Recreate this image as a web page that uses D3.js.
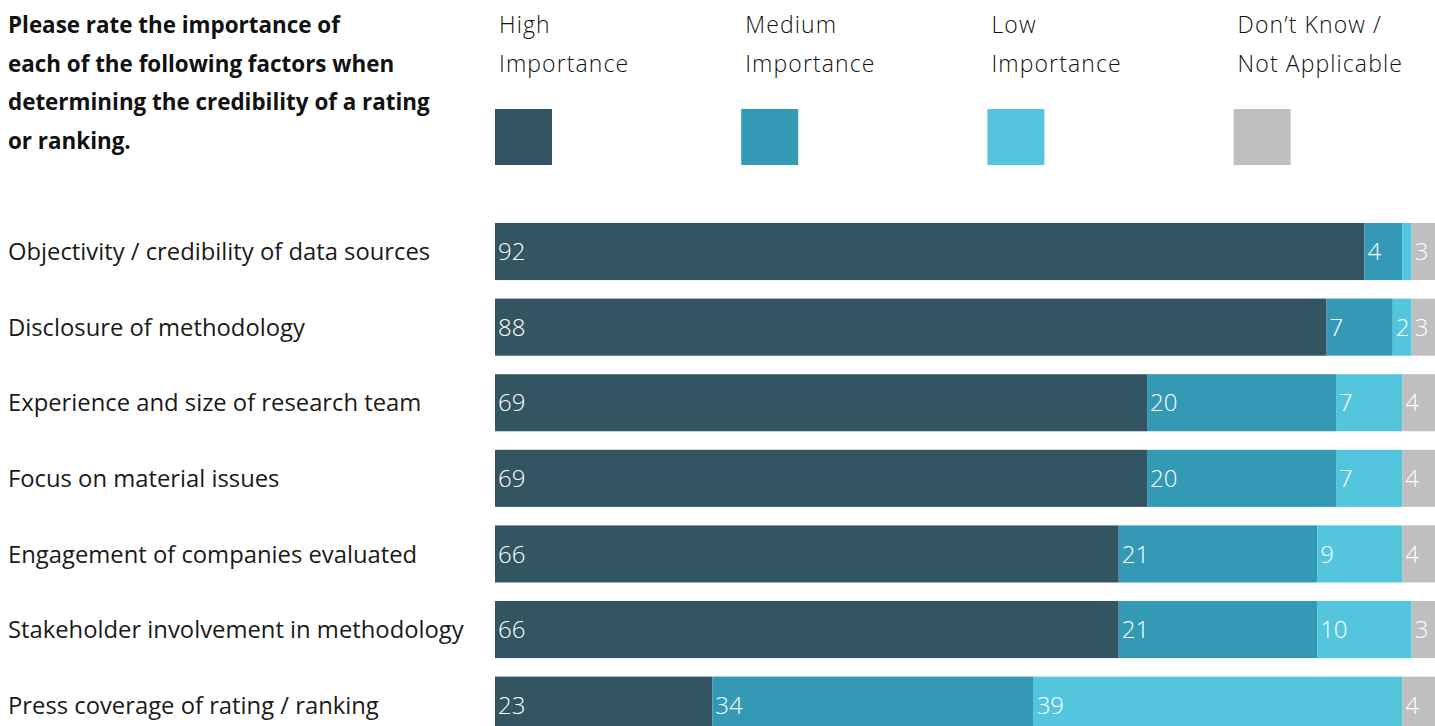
<!DOCTYPE html>
<html><head><meta charset="utf-8">
<script src="https://cdn.jsdelivr.net/npm/d3@7"></script>
<style>
html,body{margin:0;padding:0;background:#fff;overflow:hidden}
svg{display:block}
</style></head><body>
<svg id="chart" width="1435" height="726"></svg>
<script>
const categories = [
  "Objectivity / credibility of data sources",
  "Disclosure of methodology",
  "Experience and size of research team",
  "Focus on material issues",
  "Engagement of companies evaluated",
  "Stakeholder involvement in methodology",
  "Press coverage of rating / ranking"
];
const seriesNames = ["High Importance","Medium Importance","Low Importance","Don’t Know / Not Applicable"];
const legendLines = [["High","Importance"],["Medium","Importance"],["Low","Importance"],["Don’t Know /","Not Applicable"]];
const high   = [92, 88, 69, 69, 66, 66, 23];
const medium = [4, 7, 20, 20, 21, 21, 34];
const low    = [1, 2, 7, 7, 9, 10, 39];
const dontKnow = [3, 3, 4, 4, 4, 3, 4];
const showLabel = [[true,true,true,true,true,true,true],[true,true,true,true,true,true,true],[false,true,true,true,true,true,true],[true,true,true,true,true,true,true]];
const titleLines = ["Please rate the importance of","each of the following factors when","determining the credibility of a rating","or ranking."];
const colors = ["#325561","#3399b5","#53c6de","#c0bfbf"];

const svg = d3.select("#chart");
const FONT = "'Open Sans', sans-serif";

const series = [high, medium, low, dontKnow];
const data = categories.map((c,i)=>({cat:c, vals:series.map(s=>s[i])}));

const step = 75.6, pad = 0.245;
const x = d3.scaleLinear().domain([0,100]).range([495,1440]);
const y = d3.scaleBand().domain(categories).range([223, 223 + step*(7 - pad)]).paddingInner(pad).paddingOuter(0);

// title
svg.append("g").selectAll("text").data(titleLines).join("text")
  .attr("x",8).attr("y",(d,i)=>33+i*38.5)
  .attr("font-family",FONT).attr("font-weight",700).attr("font-size",22.4).attr("fill","#111")
  .text(d=>d);

// legend
const leg = svg.append("g").selectAll("g").data(seriesNames).join("g")
  .attr("transform",(d,i)=>`translate(${495+i*246.2},0)`);
leg.append("rect").attr("x",0).attr("y",109).attr("width",57).attr("height",56).attr("fill",(d,i)=>colors[i]);
leg.each(function(d,i){
  d3.select(this).selectAll("text").data(legendLines[i]).join("text")
    .attr("x",4).attr("y",(t,j)=>33+j*38.7)
    .attr("font-family",FONT).attr("font-weight",300).attr("font-size",23).attr("letter-spacing",1.1).attr("fill","#111")
    .text(t=>t);
});

// category labels
svg.append("g").selectAll("text").data(categories).join("text")
  .attr("x",8).attr("y",d=>y(d)+y.bandwidth()/2).attr("dy","0.36em")
  .attr("font-family",FONT).attr("font-weight",400).attr("font-size",23.8).attr("fill","#1a1a1a")
  .text(d=>d);

// stacked bars
const stack = d3.stack().keys([0,1,2,3]).value((d,k)=>d.vals[k]);
const layers = stack(data);
const g = svg.append("g");
layers.forEach((layer,k)=>{
  const lg = g.append("g");
  lg.selectAll("rect").data(layer).join("rect")
    .attr("x",d=>x(d[0])).attr("width",d=>x(d[1])-x(d[0]))
    .attr("y",d=>y(d.data.cat)).attr("height",y.bandwidth())
    .attr("fill",colors[k]);
  lg.selectAll("text").data(layer.filter((d,i)=>showLabel[k][i])).join("text")
    .attr("x",d=>x(d[0])+3).attr("y",d=>y(d.data.cat)+y.bandwidth()/2).attr("dy","0.36em")
    .attr("font-family",FONT).attr("font-weight",300).attr("font-size",24).attr("fill","#fff")
    .text(d=>d.data.vals[k]);
});
</script></body></html>
